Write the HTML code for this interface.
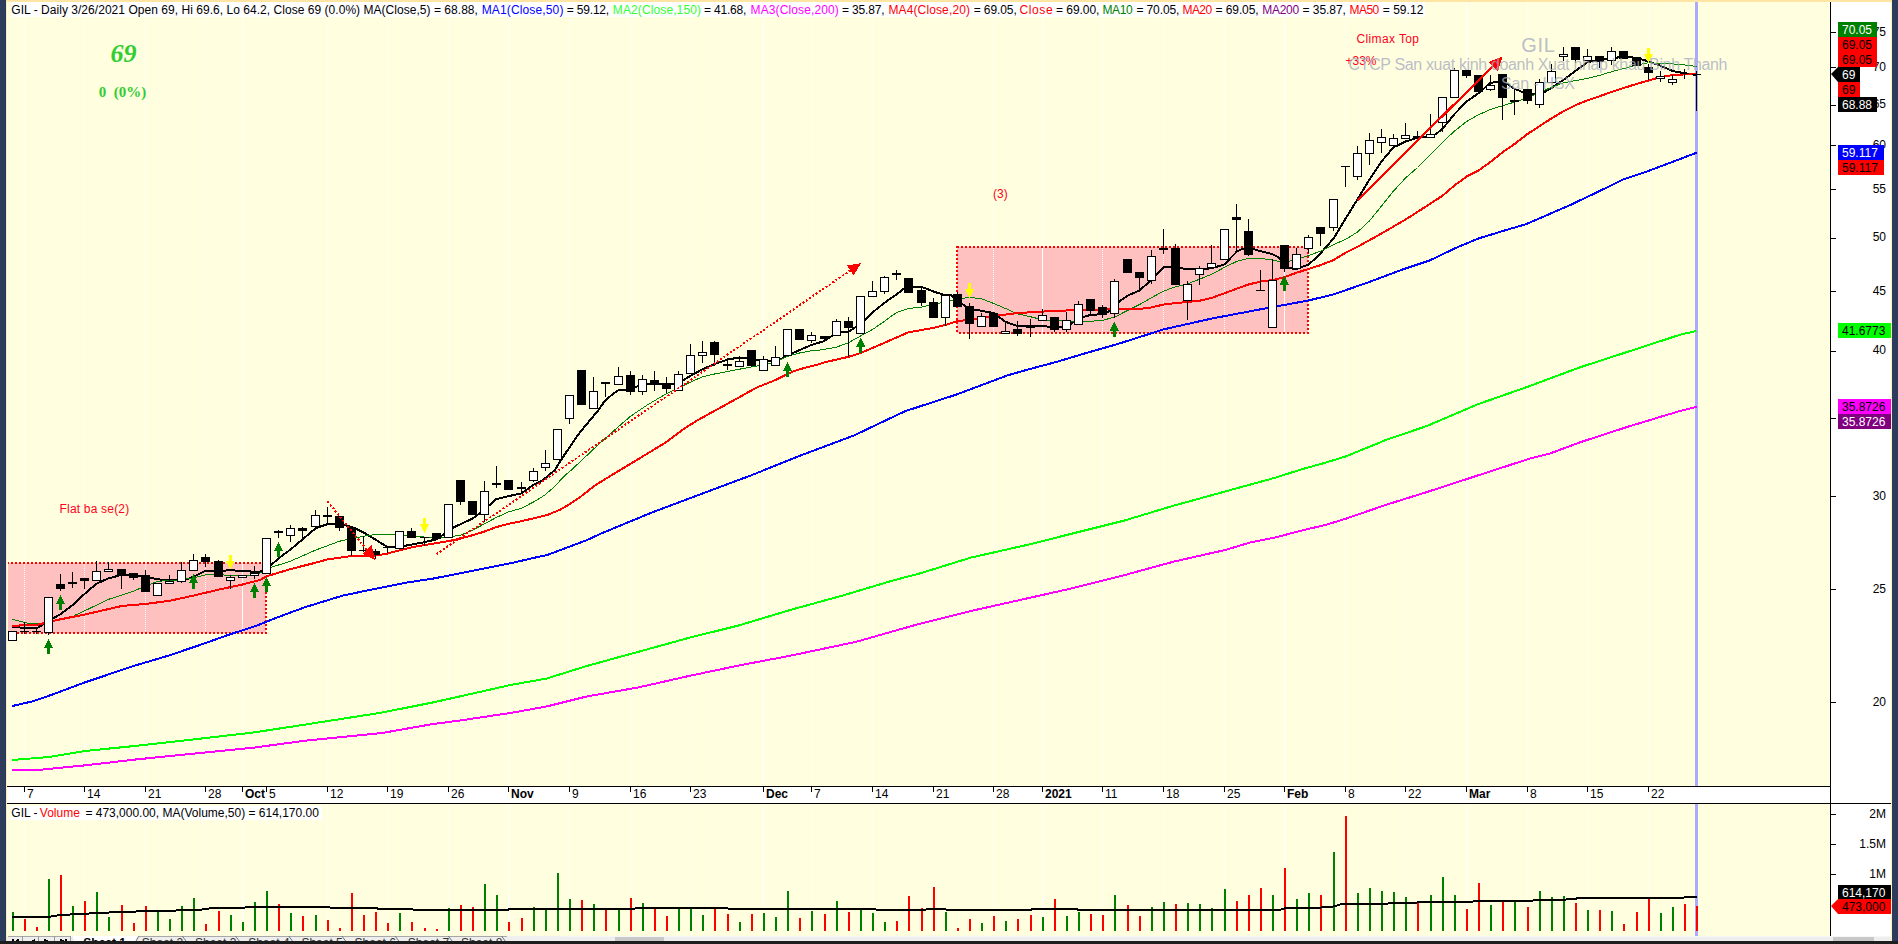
<!DOCTYPE html>
<html lang="en">
<head>
<meta charset="utf-8">
<title>GIL - Daily chart</title>
<style>
html,body{margin:0;padding:0;background:#FFFFE0;}
body{width:1898px;height:944px;overflow:hidden;position:relative;font-family:"Liberation Sans",Arial,sans-serif;}
</style>
</head>
<body>
<svg width="1898" height="944" viewBox="0 0 1898 944" style="display:block;position:absolute;left:0;top:0" font-family="'Liberation Sans', Arial, sans-serif" font-size="12">
<rect x="0" y="0" width="1898" height="944" fill="#FFFFE0"/>
<rect x="1831" y="0" width="61" height="944" fill="#fff"/>
<rect x="6" y="787" width="1825" height="16" fill="#fff"/>
<g shape-rendering="crispEdges">
<rect x="7" y="563" width="259" height="70" fill="#FFC0C0"/>
<rect x="957" y="247" width="351" height="85.5" fill="#FFC0C0"/>
<line x1="24.5" y1="2" x2="24.5" y2="787" stroke="#fff" stroke-width="1" stroke-dasharray="1 1"/>
<line x1="24.5" y1="804" x2="24.5" y2="936" stroke="#fff" stroke-width="1" stroke-dasharray="1 1"/>
<line x1="84.5" y1="2" x2="84.5" y2="787" stroke="#fff" stroke-width="1" stroke-dasharray="1 1"/>
<line x1="84.5" y1="804" x2="84.5" y2="936" stroke="#fff" stroke-width="1" stroke-dasharray="1 1"/>
<line x1="145.5" y1="2" x2="145.5" y2="787" stroke="#fff" stroke-width="1" stroke-dasharray="1 1"/>
<line x1="145.5" y1="804" x2="145.5" y2="936" stroke="#fff" stroke-width="1" stroke-dasharray="1 1"/>
<line x1="205.5" y1="2" x2="205.5" y2="787" stroke="#fff" stroke-width="1" stroke-dasharray="1 1"/>
<line x1="205.5" y1="804" x2="205.5" y2="936" stroke="#fff" stroke-width="1" stroke-dasharray="1 1"/>
<line x1="242.5" y1="2" x2="242.5" y2="787" stroke="#fff" stroke-width="1"/>
<line x1="242.5" y1="804" x2="242.5" y2="936" stroke="#fff" stroke-width="1"/>
<line x1="266.5" y1="2" x2="266.5" y2="787" stroke="#fff" stroke-width="1" stroke-dasharray="1 1"/>
<line x1="266.5" y1="804" x2="266.5" y2="936" stroke="#fff" stroke-width="1" stroke-dasharray="1 1"/>
<line x1="327.5" y1="2" x2="327.5" y2="787" stroke="#fff" stroke-width="1" stroke-dasharray="1 1"/>
<line x1="327.5" y1="804" x2="327.5" y2="936" stroke="#fff" stroke-width="1" stroke-dasharray="1 1"/>
<line x1="387.5" y1="2" x2="387.5" y2="787" stroke="#fff" stroke-width="1" stroke-dasharray="1 1"/>
<line x1="387.5" y1="804" x2="387.5" y2="936" stroke="#fff" stroke-width="1" stroke-dasharray="1 1"/>
<line x1="448.5" y1="2" x2="448.5" y2="787" stroke="#fff" stroke-width="1" stroke-dasharray="1 1"/>
<line x1="448.5" y1="804" x2="448.5" y2="936" stroke="#fff" stroke-width="1" stroke-dasharray="1 1"/>
<line x1="508.5" y1="2" x2="508.5" y2="787" stroke="#fff" stroke-width="1"/>
<line x1="508.5" y1="804" x2="508.5" y2="936" stroke="#fff" stroke-width="1"/>
<line x1="569.5" y1="2" x2="569.5" y2="787" stroke="#fff" stroke-width="1" stroke-dasharray="1 1"/>
<line x1="569.5" y1="804" x2="569.5" y2="936" stroke="#fff" stroke-width="1" stroke-dasharray="1 1"/>
<line x1="630.5" y1="2" x2="630.5" y2="787" stroke="#fff" stroke-width="1" stroke-dasharray="1 1"/>
<line x1="630.5" y1="804" x2="630.5" y2="936" stroke="#fff" stroke-width="1" stroke-dasharray="1 1"/>
<line x1="690.5" y1="2" x2="690.5" y2="787" stroke="#fff" stroke-width="1" stroke-dasharray="1 1"/>
<line x1="690.5" y1="804" x2="690.5" y2="936" stroke="#fff" stroke-width="1" stroke-dasharray="1 1"/>
<line x1="763.5" y1="2" x2="763.5" y2="787" stroke="#fff" stroke-width="1"/>
<line x1="763.5" y1="804" x2="763.5" y2="936" stroke="#fff" stroke-width="1"/>
<line x1="811.5" y1="2" x2="811.5" y2="787" stroke="#fff" stroke-width="1" stroke-dasharray="1 1"/>
<line x1="811.5" y1="804" x2="811.5" y2="936" stroke="#fff" stroke-width="1" stroke-dasharray="1 1"/>
<line x1="872.5" y1="2" x2="872.5" y2="787" stroke="#fff" stroke-width="1" stroke-dasharray="1 1"/>
<line x1="872.5" y1="804" x2="872.5" y2="936" stroke="#fff" stroke-width="1" stroke-dasharray="1 1"/>
<line x1="933.5" y1="2" x2="933.5" y2="787" stroke="#fff" stroke-width="1" stroke-dasharray="1 1"/>
<line x1="933.5" y1="804" x2="933.5" y2="936" stroke="#fff" stroke-width="1" stroke-dasharray="1 1"/>
<line x1="993.5" y1="2" x2="993.5" y2="787" stroke="#fff" stroke-width="1" stroke-dasharray="1 1"/>
<line x1="993.5" y1="804" x2="993.5" y2="936" stroke="#fff" stroke-width="1" stroke-dasharray="1 1"/>
<line x1="1042.5" y1="2" x2="1042.5" y2="787" stroke="#fff" stroke-width="1"/>
<line x1="1042.5" y1="804" x2="1042.5" y2="936" stroke="#fff" stroke-width="1"/>
<line x1="1102.5" y1="2" x2="1102.5" y2="787" stroke="#fff" stroke-width="1" stroke-dasharray="1 1"/>
<line x1="1102.5" y1="804" x2="1102.5" y2="936" stroke="#fff" stroke-width="1" stroke-dasharray="1 1"/>
<line x1="1163.5" y1="2" x2="1163.5" y2="787" stroke="#fff" stroke-width="1" stroke-dasharray="1 1"/>
<line x1="1163.5" y1="804" x2="1163.5" y2="936" stroke="#fff" stroke-width="1" stroke-dasharray="1 1"/>
<line x1="1224.5" y1="2" x2="1224.5" y2="787" stroke="#fff" stroke-width="1" stroke-dasharray="1 1"/>
<line x1="1224.5" y1="804" x2="1224.5" y2="936" stroke="#fff" stroke-width="1" stroke-dasharray="1 1"/>
<line x1="1284.5" y1="2" x2="1284.5" y2="787" stroke="#fff" stroke-width="1"/>
<line x1="1284.5" y1="804" x2="1284.5" y2="936" stroke="#fff" stroke-width="1"/>
<line x1="1345.5" y1="2" x2="1345.5" y2="787" stroke="#fff" stroke-width="1" stroke-dasharray="1 1"/>
<line x1="1345.5" y1="804" x2="1345.5" y2="936" stroke="#fff" stroke-width="1" stroke-dasharray="1 1"/>
<line x1="1405.5" y1="2" x2="1405.5" y2="787" stroke="#fff" stroke-width="1" stroke-dasharray="1 1"/>
<line x1="1405.5" y1="804" x2="1405.5" y2="936" stroke="#fff" stroke-width="1" stroke-dasharray="1 1"/>
<line x1="1466.5" y1="2" x2="1466.5" y2="787" stroke="#fff" stroke-width="1"/>
<line x1="1466.5" y1="804" x2="1466.5" y2="936" stroke="#fff" stroke-width="1"/>
<line x1="1527.5" y1="2" x2="1527.5" y2="787" stroke="#fff" stroke-width="1" stroke-dasharray="1 1"/>
<line x1="1527.5" y1="804" x2="1527.5" y2="936" stroke="#fff" stroke-width="1" stroke-dasharray="1 1"/>
<line x1="1587.5" y1="2" x2="1587.5" y2="787" stroke="#fff" stroke-width="1" stroke-dasharray="1 1"/>
<line x1="1587.5" y1="804" x2="1587.5" y2="936" stroke="#fff" stroke-width="1" stroke-dasharray="1 1"/>
<line x1="1648.5" y1="2" x2="1648.5" y2="787" stroke="#fff" stroke-width="1" stroke-dasharray="1 1"/>
<line x1="1648.5" y1="804" x2="1648.5" y2="936" stroke="#fff" stroke-width="1" stroke-dasharray="1 1"/>
<path d="M7 563H266V633H7" fill="none" stroke="#f00" stroke-width="2" stroke-dasharray="2 2"/>
<rect x="957" y="247" width="351" height="85.5" fill="none" stroke="#f00" stroke-width="2" stroke-dasharray="2 2"/>
<rect x="1695" y="2" width="3" height="785" fill="#AAAAFF"/>
<rect x="1695" y="804" width="3" height="132" fill="#AAAAFF"/>
<polyline points="12,626.5 24.5,628 36.6,628.5 43,624.5 48.5,621 60.4,614.3 72.4,605.2 84.5,594 96.4,583.7 108.7,578.3 121.6,574.9 133.5,574.9 145.3,576.6 157.5,579.3 169.5,580.3 181.7,579.6 187,579.3 193.5,576.7 205.4,570.8 218.4,570.7 230.3,570.4 242.5,570.7 254.5,571.9 260,571.6 266.7,568 272,564.2 278.5,558.5 290.4,549.6 302.6,539.3 315.6,528.3 327.5,524.1 339.6,524.1 351.5,526.8 363.4,532.3 375.7,539.7 387.5,547.1 399.4,546.8 411.6,544.6 424.3,542.2 436.2,539.4 448.3,531.5 453,527.7 460.5,524.2 472.4,518.6 478,514.5 484.7,509 489.2,505.4 496.2,499.1 508.4,496.2 521.3,493.4 533.6,484.8 540,481.9 545.5,478 554.9,470 560,461.5 569.4,447.5 579.1,433.4 588.6,421.9 598.1,410.5 604.8,401 612.4,394.3 619.1,389.9 630.5,389.9 636,387.1 642.3,384.1 654.5,384.1 666.5,384.1 678.7,383.4 690.5,375.7 702.4,369.3 714.6,364.1 727.3,359.7 739.5,357.4 751.3,358.9 763.5,360.6 772,361 780,359.6 787.7,355.3 799.6,350.1 811.4,344.9 824,341.2 830.4,336.8 840.8,332 848.5,332 854.2,327.9 860.5,325 865.3,319.7 872.7,312.3 884.6,302.7 896.4,294.5 903,289.3 908.4,286.8 921.3,286.8 933.5,291.5 945.4,295.3 951,295.3 957.5,301.2 969.5,308.6 981.4,310.8 993.6,313 1005.7,321.9 1017.7,326.1 1030.6,326.1 1042.5,326.1 1054.4,327.1 1066.4,327.1 1078.6,318.6 1090.4,314.9 1102.3,314.2 1108,312 1114.4,306.8 1120,300.8 1127.5,295.7 1139.4,290.5 1151.2,280.1 1163.4,267.2 1175.4,267.2 1187.6,269.4 1199.4,269.4 1211.6,268.2 1224.3,264.5 1236.5,251.9 1242,248.9 1248.4,247.5 1260.5,251.2 1272.4,254.1 1278,257.1 1284.4,263.8 1290,268.2 1296.6,269 1308.4,264.5 1313.7,260 1320.4,253.5 1333.5,238.6 1345.6,218.6 1357.5,199.3 1369.6,179.3 1381.5,161.5 1393.4,147.4 1405.7,141.5 1417.5,137.8 1430.1,136.6 1436,134 1442.5,128.8 1454.6,114 1466.7,101.4 1478.6,93.2 1490.4,82.8 1496,82.1 1502.3,82.1 1508,84.3 1514.5,88.8 1527.5,94 1539.4,93.2 1545,91.7 1551.5,88 1563.4,79.9 1575.4,71 1587.6,62.1 1599.4,59.9 1611.6,58.4 1623.5,56.6 1636.5,57.9 1648.4,61.3 1660.5,65.8 1672.6,71 1684.7,73.2 1696.6,75" fill="none" stroke="#000" stroke-width="2" stroke-linejoin="round"/>
<polyline points="12,706.1 33.9,701 50.8,695.1 84.7,682.4 135.6,665.4 169.5,655.3 203.4,643.8 230,634.3 254.3,626.5 280,616.4 305,607.2 343,595.5 381.4,587.6 408.3,582.3 432,578.8 460,573.3 482.4,568.9 510.9,563.2 540,556.5 546.4,555.3 587.1,540 600,534 650.9,512.9 701.7,493.8 752.6,474.8 763.2,470.5 803.4,454.4 854.3,435.3 905.1,411.2 956,394.7 1006.8,375.6 1026.2,370 1057.7,361.6 1080,354.8 1114,345.1 1130.5,340 1163.4,329.4 1211.6,318.6 1260.5,309.3 1308.4,300.5 1334.2,294.2 1368,282.4 1404.8,268.7 1429.6,260.5 1456.3,247.7 1479.2,238.2 1503,231 1526.8,223.9 1570.7,204.8 1597,192.3 1624.1,179.1 1647,171.5 1669.9,162.9 1696.6,152.7" fill="none" stroke="#0000FF" stroke-width="2" stroke-linejoin="round"/>
<polyline points="12,760 49.2,757 84.7,751 135.6,745.9 203.4,738.3 254.2,732.4 305,724.6 381.4,712.7 432,702.6 460,696.4 510.9,684.9 546.4,678.6 587.1,665.9 638,651.9 688.8,637.9 739.7,625.2 790.5,609.9 841.4,595.9 892.2,580.7 920,573.4 970.9,557.6 1029.3,544.4 1072.6,533.5 1123.4,520.8 1174.3,505.5 1225.1,491.5 1276,477.5 1300,469.8 1326.8,462.3 1345.8,456.4 1386.4,439.8 1427.1,425.9 1478,404.2 1528.8,386.4 1579.7,367.4 1630.5,350.9 1681.4,334.3 1696.6,331" fill="none" stroke="#00FF00" stroke-width="2" stroke-linejoin="round"/>
<polyline points="12,770.2 35.6,770.2 84.7,765.4 135.6,759.5 203.4,752.7 254.2,747.6 305,740.7 381.4,733.1 432,724.2 460,720.5 510.9,712.9 546.4,706.5 587.1,696.4 638,687.5 688.8,676 739.7,665.3 790.5,655.7 856.6,641.7 892.2,631.5 920,623.7 970.9,611 1021.7,599.6 1072.6,588.2 1123.4,575.4 1174.3,561.5 1225.1,550 1250.5,542.4 1276,537.3 1300,530.9 1326.8,524.6 1345.8,518.7 1386.4,504.7 1427.1,492 1478,475.4 1528.8,458.9 1549.2,453.8 1579.7,442.4 1630.5,425.9 1656,418.2 1681.4,410.6 1696.6,406.8" fill="none" stroke="#FF00FF" stroke-width="2" stroke-linejoin="round"/>
<polyline points="12,619.3 29.1,623.4 43.1,623.4 48.5,622 60.4,619.3 72,617 75.8,614.9 84.5,610.9 108.7,599.3 133.5,591.2 145.3,586 157.5,581.5 169.5,580.3 181.7,579.8 193.5,577.8 205.4,574.9 218.4,574.4 230.3,575.6 254.5,575.6 266.5,569.7 272,567.1 290.4,561.2 315.6,550.1 339.6,541.2 351.5,538.5 363.4,536.3 375.7,534.5 399.4,534.8 411.6,536.3 424.3,537 436.2,538.2 448.3,537 460.5,535.3 472.4,530.2 484.7,523.8 496.2,517.5 508.4,512 521.3,508.2 533.6,502 544.5,495.3 553.4,487.6 566.1,474.3 571.4,470 581.5,460.5 593.7,449 605.3,438.3 618.6,426.5 630.5,416.3 637.7,411.3 647.2,405.1 654.5,400.7 661.5,396.5 673,390.5 685.3,384.6 702.4,376.8 714.6,374 727.3,371.6 739.5,369.2 751.3,366.9 763.5,365 775.5,362.2 787.4,356.3 799.6,353 811.4,350.7 820,350 836.4,347.2 848.5,342.7 860.5,336 872.7,329.4 884.6,321.2 896.4,312.5 908.4,308.5 921.3,307.1 933.5,304.2 945.4,301.9 957.5,299 969.5,297.5 981.4,298.7 993.6,303.4 1005.7,308.6 1017.7,313.9 1030.6,316.8 1042.5,319.7 1054.4,321.2 1062.2,320.9 1078.6,321.5 1090.4,321.3 1102.3,320.4 1114.4,317.2 1127.5,310.5 1139.4,304.6 1151.2,297.9 1163.4,291.2 1175.4,286.8 1187.6,283.8 1199.4,279.3 1211.6,274.2 1224.3,267.5 1236.5,261.5 1248.4,258.3 1260.5,258.3 1272.4,260.1 1284.4,262.3 1296.6,259.3 1308.4,255.6 1320.4,251.2 1333.5,244.6 1345.6,239.4 1357.5,232 1369.6,220.8 1381.5,206 1393.4,191.2 1405.7,177.8 1417.5,167.5 1430.1,155 1442.5,142.2 1454.6,131 1466.7,121.4 1478.6,114.7 1490.4,109.5 1502.3,105.8 1514.5,102.1 1527.5,97.7 1539.4,92.5 1551.5,87.3 1563.4,82.8 1575.4,80.6 1587.6,78.4 1599.4,75.4 1611.6,71.7 1623.5,68.7 1636.5,65 1648.4,62.8 1660.5,63.3 1672.6,63.9 1684.7,65 1696.6,66.5" fill="none" stroke="#008000" stroke-width="1" stroke-linejoin="round"/>
<polyline points="12,625.7 36.6,625 48.5,622 60.4,619.3 84.5,614.6 121.6,606 145.3,604 169.5,600.8 193.5,595.6 218.4,589.7 242.5,584.5 260,580 266.7,576.3 290.4,569.1 315.6,562.7 327.5,559.4 351.5,556 375.7,555.6 387.5,553.5 411.6,547.3 436.2,543.2 448.3,541.2 460.5,538.5 472.4,535.3 484.7,531.5 496.2,527.1 508.4,523.8 521.3,521.2 533.6,518.3 547.1,515 559.8,509.9 570,504 580,497.2 596,484.7 612.6,474.6 629.5,464.4 646.4,454.2 666.5,442 683.1,429.4 697,420.5 714.3,411 737.2,398.4 756.3,387.7 775.3,380.1 784.9,375.3 794.4,371 803.9,368.1 820,363.9 824,362.5 848.5,356.8 860.5,353.1 884.6,342.7 908.4,332.3 933.5,327.9 945.4,324.9 957.5,321.2 969.5,319.7 981.4,317.9 993.6,316 1005.7,314.5 1017.7,313 1030.6,312.3 1042.5,311.6 1054.4,310.8 1066.4,310.5 1090.4,309.7 1114.4,309.4 1139.4,309 1151.2,307.5 1163.4,304.6 1175.4,303.1 1187.6,302 1199.4,300.8 1211.6,297.9 1224.3,293.4 1236.5,288.7 1248.4,284.5 1260.5,281.6 1272.4,280.1 1284.4,277.1 1296.6,272.7 1308.4,269 1320,265.3 1333.7,260 1345.6,252.7 1357.5,246.8 1381.5,233.5 1405.7,219.4 1417.5,211.9 1430.1,203.8 1442.7,195.6 1454.7,185.3 1466.8,176.4 1478.8,170.4 1491,161.5 1503,151.9 1515,143.7 1527.5,134 1539.4,126.2 1551.5,118.4 1563.4,111.3 1575.4,105.2 1587.6,100.3 1599.4,96.3 1611.6,92 1623.5,88 1636.5,84 1648.4,80.5 1660.5,77.1 1672.6,75.1 1684.7,74.4 1696.6,74.3" fill="none" stroke="#FF0000" stroke-width="2" stroke-linejoin="round"/>
<rect x="12" y="631" width="1" height="10" fill="#000"/>
<rect x="8.5" y="631.5" width="8" height="9" fill="#fff" stroke="#000" stroke-width="1"/>
<rect x="24" y="622" width="1" height="12" fill="#000"/>
<rect x="20" y="631" width="9" height="1" fill="#000"/>
<rect x="36" y="627" width="1" height="7" fill="#000"/>
<rect x="32" y="631" width="9" height="1" fill="#000"/>
<rect x="48" y="597" width="1" height="38" fill="#000"/>
<rect x="44.5" y="597.5" width="8" height="35" fill="#fff" stroke="#000" stroke-width="1"/>
<rect x="60" y="574" width="1" height="17" fill="#000"/>
<rect x="56" y="584" width="9" height="5" fill="#000"/>
<rect x="72" y="572" width="1" height="16" fill="#000"/>
<rect x="68" y="582" width="9" height="2" fill="#000"/>
<rect x="84" y="578" width="1" height="11" fill="#000"/>
<rect x="80" y="578" width="9" height="3" fill="#000"/>
<rect x="96" y="561" width="1" height="20" fill="#000"/>
<rect x="92.5" y="571.5" width="8" height="9" fill="#fff" stroke="#000" stroke-width="1"/>
<rect x="108" y="562" width="1" height="10" fill="#000"/>
<rect x="104.5" y="569.5" width="8" height="2" fill="#fff" stroke="#000" stroke-width="1"/>
<rect x="121" y="569" width="1" height="20" fill="#000"/>
<rect x="117" y="569" width="9" height="7" fill="#000"/>
<rect x="133" y="573" width="1" height="7" fill="#000"/>
<rect x="129" y="573" width="9" height="5" fill="#000"/>
<rect x="145" y="570" width="1" height="22" fill="#000"/>
<rect x="141" y="575" width="9" height="17" fill="#000"/>
<rect x="157" y="583" width="1" height="13" fill="#000"/>
<rect x="153.5" y="583.5" width="8" height="12" fill="#fff" stroke="#000" stroke-width="1"/>
<rect x="169" y="575" width="1" height="9" fill="#000"/>
<rect x="165.5" y="581.5" width="8" height="2" fill="#fff" stroke="#000" stroke-width="1"/>
<rect x="181" y="562" width="1" height="21" fill="#000"/>
<rect x="177.5" y="570.5" width="8" height="11" fill="#fff" stroke="#000" stroke-width="1"/>
<rect x="193" y="554" width="1" height="17" fill="#000"/>
<rect x="189.5" y="560.5" width="8" height="10" fill="#fff" stroke="#000" stroke-width="1"/>
<rect x="205" y="554" width="1" height="13" fill="#000"/>
<rect x="201" y="557" width="9" height="5" fill="#000"/>
<rect x="218" y="560" width="1" height="17" fill="#000"/>
<rect x="214" y="561" width="9" height="16" fill="#000"/>
<rect x="230" y="575" width="1" height="14" fill="#000"/>
<rect x="226.5" y="577.5" width="8" height="3" fill="#fff" stroke="#000" stroke-width="1"/>
<rect x="242" y="575" width="1" height="3" fill="#000"/>
<rect x="238.5" y="575.5" width="8" height="2" fill="#fff" stroke="#000" stroke-width="1"/>
<rect x="254" y="566" width="1" height="13" fill="#000"/>
<rect x="250.5" y="573.5" width="8" height="2" fill="#fff" stroke="#000" stroke-width="1"/>
<rect x="266" y="538" width="1" height="36" fill="#000"/>
<rect x="262.5" y="538.5" width="8" height="35" fill="#fff" stroke="#000" stroke-width="1"/>
<rect x="278" y="530" width="1" height="8" fill="#000"/>
<rect x="274" y="531" width="9" height="2" fill="#000"/>
<rect x="290" y="525" width="1" height="17" fill="#000"/>
<rect x="286.5" y="528.5" width="8" height="7" fill="#fff" stroke="#000" stroke-width="1"/>
<rect x="302" y="527" width="1" height="11" fill="#000"/>
<rect x="298" y="528" width="9" height="3" fill="#000"/>
<rect x="315" y="510" width="1" height="17" fill="#000"/>
<rect x="311.5" y="515.5" width="8" height="11" fill="#fff" stroke="#000" stroke-width="1"/>
<rect x="327" y="507" width="1" height="18" fill="#000"/>
<rect x="323" y="515" width="9" height="2" fill="#000"/>
<rect x="339" y="516" width="1" height="15" fill="#000"/>
<rect x="335" y="516" width="9" height="12" fill="#000"/>
<rect x="351" y="527" width="1" height="29" fill="#000"/>
<rect x="347" y="527" width="9" height="24" fill="#000"/>
<rect x="363" y="536" width="1" height="16" fill="#000"/>
<rect x="359" y="550" width="9" height="1" fill="#000"/>
<rect x="375" y="549" width="1" height="10" fill="#000"/>
<rect x="371" y="551" width="9" height="4" fill="#000"/>
<rect x="387" y="546" width="1" height="7" fill="#000"/>
<rect x="383" y="547" width="9" height="1" fill="#000"/>
<rect x="399" y="531" width="1" height="18" fill="#000"/>
<rect x="395.5" y="531.5" width="8" height="17" fill="#fff" stroke="#000" stroke-width="1"/>
<rect x="411" y="528" width="1" height="10" fill="#000"/>
<rect x="407" y="531" width="9" height="7" fill="#000"/>
<rect x="424" y="537" width="1" height="9" fill="#000"/>
<rect x="420" y="537" width="9" height="1" fill="#000"/>
<rect x="436" y="533" width="1" height="6" fill="#000"/>
<rect x="432" y="533" width="9" height="6" fill="#000"/>
<rect x="448" y="504" width="1" height="34" fill="#000"/>
<rect x="444.5" y="504.5" width="8" height="33" fill="#fff" stroke="#000" stroke-width="1"/>
<rect x="460" y="480" width="1" height="25" fill="#000"/>
<rect x="456" y="480" width="9" height="22" fill="#000"/>
<rect x="472" y="501" width="1" height="14" fill="#000"/>
<rect x="468" y="501" width="9" height="14" fill="#000"/>
<rect x="484" y="481" width="1" height="41" fill="#000"/>
<rect x="480.5" y="491.5" width="8" height="23" fill="#fff" stroke="#000" stroke-width="1"/>
<rect x="496" y="466" width="1" height="22" fill="#000"/>
<rect x="492" y="483" width="9" height="2" fill="#000"/>
<rect x="508" y="480" width="1" height="10" fill="#000"/>
<rect x="504" y="480" width="9" height="10" fill="#000"/>
<rect x="521" y="482" width="1" height="11" fill="#000"/>
<rect x="517" y="487" width="9" height="2" fill="#000"/>
<rect x="533" y="468" width="1" height="14" fill="#000"/>
<rect x="529.5" y="471.5" width="8" height="9" fill="#fff" stroke="#000" stroke-width="1"/>
<rect x="545" y="450" width="1" height="21" fill="#000"/>
<rect x="541.5" y="463.5" width="8" height="4" fill="#fff" stroke="#000" stroke-width="1"/>
<rect x="557" y="429" width="1" height="31" fill="#000"/>
<rect x="553.5" y="429.5" width="8" height="30" fill="#fff" stroke="#000" stroke-width="1"/>
<rect x="569" y="395" width="1" height="29" fill="#000"/>
<rect x="565.5" y="395.5" width="8" height="23" fill="#fff" stroke="#000" stroke-width="1"/>
<rect x="581" y="370" width="1" height="35" fill="#000"/>
<rect x="577" y="370" width="9" height="35" fill="#000"/>
<rect x="593" y="377" width="1" height="32" fill="#000"/>
<rect x="589.5" y="391.5" width="8" height="17" fill="#fff" stroke="#000" stroke-width="1"/>
<rect x="605" y="383" width="1" height="14" fill="#000"/>
<rect x="601" y="382" width="9" height="2" fill="#000"/>
<rect x="618" y="367" width="1" height="18" fill="#000"/>
<rect x="614.5" y="376.5" width="8" height="8" fill="#fff" stroke="#000" stroke-width="1"/>
<rect x="630" y="371" width="1" height="24" fill="#000"/>
<rect x="626" y="375" width="9" height="17" fill="#000"/>
<rect x="642" y="375" width="1" height="20" fill="#000"/>
<rect x="638.5" y="379.5" width="8" height="12" fill="#fff" stroke="#000" stroke-width="1"/>
<rect x="654" y="371" width="1" height="20" fill="#000"/>
<rect x="650" y="380" width="9" height="5" fill="#000"/>
<rect x="666" y="377" width="1" height="16" fill="#000"/>
<rect x="662" y="383" width="9" height="6" fill="#000"/>
<rect x="678" y="371" width="1" height="20" fill="#000"/>
<rect x="674.5" y="374.5" width="8" height="16" fill="#fff" stroke="#000" stroke-width="1"/>
<rect x="690" y="344" width="1" height="30" fill="#000"/>
<rect x="686.5" y="355.5" width="8" height="18" fill="#fff" stroke="#000" stroke-width="1"/>
<rect x="702" y="341" width="1" height="22" fill="#000"/>
<rect x="698.5" y="352.5" width="8" height="3" fill="#fff" stroke="#000" stroke-width="1"/>
<rect x="714" y="341" width="1" height="25" fill="#000"/>
<rect x="710" y="342" width="9" height="13" fill="#000"/>
<rect x="727" y="358" width="1" height="12" fill="#000"/>
<rect x="723" y="364" width="9" height="2" fill="#000"/>
<rect x="739" y="356" width="1" height="11" fill="#000"/>
<rect x="735.5" y="361.5" width="8" height="5" fill="#fff" stroke="#000" stroke-width="1"/>
<rect x="751" y="350" width="1" height="17" fill="#000"/>
<rect x="747" y="350" width="9" height="16" fill="#000"/>
<rect x="763" y="356" width="1" height="15" fill="#000"/>
<rect x="759.5" y="359.5" width="8" height="11" fill="#fff" stroke="#000" stroke-width="1"/>
<rect x="775" y="346" width="1" height="20" fill="#000"/>
<rect x="771.5" y="357.5" width="8" height="8" fill="#fff" stroke="#000" stroke-width="1"/>
<rect x="787" y="329" width="1" height="27" fill="#000"/>
<rect x="783.5" y="329.5" width="8" height="26" fill="#fff" stroke="#000" stroke-width="1"/>
<rect x="799" y="329" width="1" height="11" fill="#000"/>
<rect x="795" y="329" width="9" height="11" fill="#000"/>
<rect x="811" y="332" width="1" height="11" fill="#000"/>
<rect x="807.5" y="335.5" width="8" height="5" fill="#fff" stroke="#000" stroke-width="1"/>
<rect x="824" y="336" width="1" height="6" fill="#000"/>
<rect x="820" y="336" width="9" height="3" fill="#000"/>
<rect x="836" y="319" width="1" height="17" fill="#000"/>
<rect x="832.5" y="321.5" width="8" height="14" fill="#fff" stroke="#000" stroke-width="1"/>
<rect x="848" y="317" width="1" height="40" fill="#000"/>
<rect x="844" y="321" width="9" height="7" fill="#000"/>
<rect x="860" y="296" width="1" height="38" fill="#000"/>
<rect x="856.5" y="296.5" width="8" height="37" fill="#fff" stroke="#000" stroke-width="1"/>
<rect x="872" y="281" width="1" height="16" fill="#000"/>
<rect x="868.5" y="291.5" width="8" height="5" fill="#fff" stroke="#000" stroke-width="1"/>
<rect x="884" y="276" width="1" height="18" fill="#000"/>
<rect x="880.5" y="277.5" width="8" height="14" fill="#fff" stroke="#000" stroke-width="1"/>
<rect x="896" y="270" width="1" height="10" fill="#000"/>
<rect x="892" y="273" width="9" height="2" fill="#000"/>
<rect x="908" y="278" width="1" height="15" fill="#000"/>
<rect x="904" y="278" width="9" height="15" fill="#000"/>
<rect x="921" y="287" width="1" height="19" fill="#000"/>
<rect x="917" y="290" width="9" height="13" fill="#000"/>
<rect x="933" y="298" width="1" height="20" fill="#000"/>
<rect x="929" y="302" width="9" height="16" fill="#000"/>
<rect x="945" y="294" width="1" height="32" fill="#000"/>
<rect x="941.5" y="295.5" width="8" height="22" fill="#fff" stroke="#000" stroke-width="1"/>
<rect x="957" y="292" width="1" height="15" fill="#000"/>
<rect x="953" y="294" width="9" height="13" fill="#000"/>
<rect x="969" y="303" width="1" height="36" fill="#000"/>
<rect x="965" y="306" width="9" height="18" fill="#000"/>
<rect x="981" y="313" width="1" height="14" fill="#000"/>
<rect x="977.5" y="316.5" width="8" height="10" fill="#fff" stroke="#000" stroke-width="1"/>
<rect x="993" y="313" width="1" height="14" fill="#000"/>
<rect x="989" y="313" width="9" height="14" fill="#000"/>
<rect x="1005" y="321" width="1" height="13" fill="#000"/>
<rect x="1001.5" y="331.5" width="8" height="2" fill="#fff" stroke="#000" stroke-width="1"/>
<rect x="1017" y="321" width="1" height="15" fill="#000"/>
<rect x="1013" y="329" width="9" height="5" fill="#000"/>
<rect x="1030" y="319" width="1" height="18" fill="#000"/>
<rect x="1026" y="326" width="9" height="2" fill="#000"/>
<rect x="1042" y="309" width="1" height="12" fill="#000"/>
<rect x="1038.5" y="315.5" width="8" height="5" fill="#fff" stroke="#000" stroke-width="1"/>
<rect x="1054" y="317" width="1" height="15" fill="#000"/>
<rect x="1050" y="317" width="9" height="13" fill="#000"/>
<rect x="1066" y="312" width="1" height="20" fill="#000"/>
<rect x="1062.5" y="320.5" width="8" height="9" fill="#fff" stroke="#000" stroke-width="1"/>
<rect x="1078" y="301" width="1" height="24" fill="#000"/>
<rect x="1074.5" y="304.5" width="8" height="20" fill="#fff" stroke="#000" stroke-width="1"/>
<rect x="1090" y="299" width="1" height="16" fill="#000"/>
<rect x="1086" y="299" width="9" height="12" fill="#000"/>
<rect x="1102" y="305" width="1" height="13" fill="#000"/>
<rect x="1098" y="307" width="9" height="8" fill="#000"/>
<rect x="1114" y="279" width="1" height="39" fill="#000"/>
<rect x="1110.5" y="281.5" width="8" height="32" fill="#fff" stroke="#000" stroke-width="1"/>
<rect x="1127" y="259" width="1" height="14" fill="#000"/>
<rect x="1123" y="259" width="9" height="14" fill="#000"/>
<rect x="1139" y="272" width="1" height="19" fill="#000"/>
<rect x="1135" y="272" width="9" height="6" fill="#000"/>
<rect x="1151" y="250" width="1" height="34" fill="#000"/>
<rect x="1147.5" y="256.5" width="8" height="24" fill="#fff" stroke="#000" stroke-width="1"/>
<rect x="1163" y="229" width="1" height="25" fill="#000"/>
<rect x="1159" y="248" width="9" height="2" fill="#000"/>
<rect x="1175" y="244" width="1" height="41" fill="#000"/>
<rect x="1171" y="248" width="9" height="37" fill="#000"/>
<rect x="1187" y="281" width="1" height="39" fill="#000"/>
<rect x="1183.5" y="284.5" width="8" height="16" fill="#fff" stroke="#000" stroke-width="1"/>
<rect x="1199" y="266" width="1" height="19" fill="#000"/>
<rect x="1195.5" y="268.5" width="8" height="6" fill="#fff" stroke="#000" stroke-width="1"/>
<rect x="1211" y="245" width="1" height="23" fill="#000"/>
<rect x="1207.5" y="263.5" width="8" height="4" fill="#fff" stroke="#000" stroke-width="1"/>
<rect x="1224" y="229" width="1" height="31" fill="#000"/>
<rect x="1220.5" y="229.5" width="8" height="30" fill="#fff" stroke="#000" stroke-width="1"/>
<rect x="1236" y="204" width="1" height="48" fill="#000"/>
<rect x="1232" y="217" width="9" height="3" fill="#000"/>
<rect x="1248" y="219" width="1" height="37" fill="#000"/>
<rect x="1244" y="231" width="9" height="24" fill="#000"/>
<rect x="1260" y="270" width="1" height="21" fill="#000"/>
<rect x="1256" y="290" width="9" height="1" fill="#000"/>
<rect x="1272" y="259" width="1" height="69" fill="#000"/>
<rect x="1268.5" y="280.5" width="8" height="47" fill="#fff" stroke="#000" stroke-width="1"/>
<rect x="1284" y="245" width="1" height="27" fill="#000"/>
<rect x="1280" y="245" width="9" height="24" fill="#000"/>
<rect x="1296" y="248" width="1" height="21" fill="#000"/>
<rect x="1292.5" y="254.5" width="8" height="14" fill="#fff" stroke="#000" stroke-width="1"/>
<rect x="1308" y="235" width="1" height="18" fill="#000"/>
<rect x="1304.5" y="237.5" width="8" height="11" fill="#fff" stroke="#000" stroke-width="1"/>
<rect x="1320" y="227" width="1" height="19" fill="#000"/>
<rect x="1316" y="227" width="9" height="7" fill="#000"/>
<rect x="1333" y="199" width="1" height="32" fill="#000"/>
<rect x="1329.5" y="199.5" width="8" height="28" fill="#fff" stroke="#000" stroke-width="1"/>
<rect x="1345" y="166" width="1" height="21" fill="#000"/>
<rect x="1341" y="166" width="9" height="1" fill="#000"/>
<rect x="1357" y="146" width="1" height="34" fill="#000"/>
<rect x="1353.5" y="153.5" width="8" height="23" fill="#fff" stroke="#000" stroke-width="1"/>
<rect x="1369" y="133" width="1" height="32" fill="#000"/>
<rect x="1365.5" y="140.5" width="8" height="13" fill="#fff" stroke="#000" stroke-width="1"/>
<rect x="1381" y="129" width="1" height="24" fill="#000"/>
<rect x="1377.5" y="137.5" width="8" height="5" fill="#fff" stroke="#000" stroke-width="1"/>
<rect x="1393" y="134" width="1" height="12" fill="#000"/>
<rect x="1389.5" y="138.5" width="8" height="7" fill="#fff" stroke="#000" stroke-width="1"/>
<rect x="1405" y="123" width="1" height="16" fill="#000"/>
<rect x="1401.5" y="135.5" width="8" height="3" fill="#fff" stroke="#000" stroke-width="1"/>
<rect x="1417" y="131" width="1" height="7" fill="#000"/>
<rect x="1413" y="136" width="9" height="2" fill="#000"/>
<rect x="1430" y="114" width="1" height="24" fill="#000"/>
<rect x="1426.5" y="134.5" width="8" height="3" fill="#fff" stroke="#000" stroke-width="1"/>
<rect x="1442" y="97" width="1" height="35" fill="#000"/>
<rect x="1438.5" y="97.5" width="8" height="25" fill="#fff" stroke="#000" stroke-width="1"/>
<rect x="1454" y="68" width="1" height="30" fill="#000"/>
<rect x="1450.5" y="70.5" width="8" height="27" fill="#fff" stroke="#000" stroke-width="1"/>
<rect x="1466" y="70" width="1" height="8" fill="#000"/>
<rect x="1462" y="70" width="9" height="6" fill="#000"/>
<rect x="1478" y="75" width="1" height="17" fill="#000"/>
<rect x="1474" y="75" width="9" height="17" fill="#000"/>
<rect x="1490" y="75" width="1" height="16" fill="#000"/>
<rect x="1486.5" y="85.5" width="8" height="4" fill="#fff" stroke="#000" stroke-width="1"/>
<rect x="1502" y="74" width="1" height="46" fill="#000"/>
<rect x="1498" y="74" width="9" height="24" fill="#000"/>
<rect x="1514" y="88" width="1" height="27" fill="#000"/>
<rect x="1510" y="100" width="9" height="2" fill="#000"/>
<rect x="1527" y="89" width="1" height="15" fill="#000"/>
<rect x="1523" y="89" width="9" height="12" fill="#000"/>
<rect x="1539" y="79" width="1" height="29" fill="#000"/>
<rect x="1535.5" y="82.5" width="8" height="22" fill="#fff" stroke="#000" stroke-width="1"/>
<rect x="1551" y="64" width="1" height="19" fill="#000"/>
<rect x="1547.5" y="71.5" width="8" height="11" fill="#fff" stroke="#000" stroke-width="1"/>
<rect x="1563" y="47" width="1" height="14" fill="#000"/>
<rect x="1559.5" y="54.5" width="8" height="2" fill="#fff" stroke="#000" stroke-width="1"/>
<rect x="1575" y="47" width="1" height="16" fill="#000"/>
<rect x="1571" y="47" width="9" height="13" fill="#000"/>
<rect x="1587" y="49" width="1" height="12" fill="#000"/>
<rect x="1583.5" y="56.5" width="8" height="4" fill="#fff" stroke="#000" stroke-width="1"/>
<rect x="1599" y="56" width="1" height="12" fill="#000"/>
<rect x="1595" y="56" width="9" height="6" fill="#000"/>
<rect x="1611" y="47" width="1" height="18" fill="#000"/>
<rect x="1607.5" y="51.5" width="8" height="9" fill="#fff" stroke="#000" stroke-width="1"/>
<rect x="1623" y="51" width="1" height="8" fill="#000"/>
<rect x="1619" y="51" width="9" height="8" fill="#000"/>
<rect x="1636" y="57" width="1" height="9" fill="#000"/>
<rect x="1632" y="57" width="9" height="9" fill="#000"/>
<rect x="1648" y="64" width="1" height="16" fill="#000"/>
<rect x="1644" y="67" width="9" height="6" fill="#000"/>
<rect x="1660" y="71" width="1" height="11" fill="#000"/>
<rect x="1656.5" y="76.5" width="8" height="2" fill="#fff" stroke="#000" stroke-width="1"/>
<rect x="1672" y="75" width="1" height="10" fill="#000"/>
<rect x="1668.5" y="79.5" width="8" height="3" fill="#fff" stroke="#000" stroke-width="1"/>
<rect x="1684" y="69" width="1" height="10" fill="#000"/>
<rect x="1680" y="73" width="9" height="1" fill="#000"/>
<rect x="1696" y="71" width="1" height="40" fill="#000"/>
<rect x="1692" y="74" width="9" height="1" fill="#000"/>
<polygon points="48.5,639.4 53,648.4 50,648.4 50,654.4 47,654.4 47,648.4 44,648.4" fill="#008000"/>
<polygon points="60.4,595.2 64.9,604.2 61.9,604.2 61.9,610.2 58.9,610.2 58.9,604.2 55.9,604.2" fill="#008000"/>
<polygon points="193.5,574.1 198,583.1 195,583.1 195,589.1 192,589.1 192,583.1 189,583.1" fill="#008000"/>
<polygon points="254.5,583.3 259,592.3 256,592.3 256,598.3 253,598.3 253,592.3 250,592.3" fill="#008000"/>
<polygon points="266.5,577.3 271,586.3 268,586.3 268,592.3 265,592.3 265,586.3 262,586.3" fill="#008000"/>
<polygon points="278.5,542.2 283,551.2 280,551.2 280,557.2 277,557.2 277,551.2 274,551.2" fill="#008000"/>
<polygon points="787.5,361.9 792,370.9 789,370.9 789,376.9 786,376.9 786,370.9 783,370.9" fill="#008000"/>
<polygon points="860.5,337.5 865,346.5 862,346.5 862,352.5 859,352.5 859,346.5 856,346.5" fill="#008000"/>
<polygon points="1114.4,321.5 1118.9,330.5 1115.9,330.5 1115.9,336.5 1112.9,336.5 1112.9,330.5 1109.9,330.5" fill="#008000"/>
<polygon points="1284.4,275.6 1288.9,284.6 1285.9,284.6 1285.9,290.6 1282.9,290.6 1282.9,284.6 1279.9,284.6" fill="#008000"/>
<polygon points="228.8,554.8 231.8,554.8 231.8,560.8 234.8,560.8 230.3,569.8 225.8,560.8 228.8,560.8" fill="#FFFF00"/>
<polygon points="422.9,518 425.9,518 425.9,524 428.9,524 424.4,533 419.9,524 422.9,524" fill="#FFFF00"/>
<polygon points="968,282.9 971,282.9 971,288.9 974,288.9 969.5,297.9 965,288.9 968,288.9" fill="#FFFF00"/>
<polygon points="1646.9,48 1649.9,48 1649.9,54 1652.9,54 1648.4,63 1643.9,54 1646.9,54" fill="#FFFF00"/>
<line x1="327.5" y1="501.4" x2="370" y2="553.8" stroke="#f00" stroke-width="2" stroke-dasharray="2 2"/>
<polygon points="375,560 362.5,553.7 371.7,545" fill="#f00"/>
<line x1="436.5" y1="554.2" x2="851" y2="270" stroke="#f00" stroke-width="2" stroke-dasharray="2 2"/>
<polygon points="861,263.2 853.7,275.5 846.9,265.6" fill="#f00"/>
<line x1="1357.5" y1="200.1" x2="1494" y2="65" stroke="#f00" stroke-width="2.2"/>
<polygon points="1502.5,56.5 1498,71.5 1488.5,62" fill="#f00"/>
<rect x="12" y="912" width="2" height="19" fill="#008000"/>
<rect x="24" y="919" width="2" height="12" fill="#FF0000"/>
<rect x="36" y="927" width="2" height="4" fill="#FF0000"/>
<rect x="48" y="879" width="2" height="52" fill="#008000"/>
<rect x="60" y="875" width="2" height="56" fill="#FF0000"/>
<rect x="72" y="906" width="2" height="25" fill="#008000"/>
<rect x="84" y="901" width="2" height="30" fill="#FF0000"/>
<rect x="96" y="892" width="2" height="39" fill="#008000"/>
<rect x="108" y="917" width="2" height="14" fill="#008000"/>
<rect x="121" y="905" width="2" height="26" fill="#FF0000"/>
<rect x="133" y="923" width="2" height="8" fill="#FF0000"/>
<rect x="145" y="906" width="2" height="25" fill="#FF0000"/>
<rect x="157" y="911" width="2" height="20" fill="#008000"/>
<rect x="169" y="919" width="2" height="12" fill="#008000"/>
<rect x="181" y="906" width="2" height="25" fill="#008000"/>
<rect x="193" y="898" width="2" height="33" fill="#008000"/>
<rect x="205" y="924" width="2" height="7" fill="#FF0000"/>
<rect x="218" y="911" width="2" height="20" fill="#FF0000"/>
<rect x="230" y="915" width="2" height="16" fill="#008000"/>
<rect x="242" y="922" width="2" height="9" fill="#008000"/>
<rect x="254" y="902" width="2" height="29" fill="#008000"/>
<rect x="266" y="891" width="2" height="40" fill="#008000"/>
<rect x="278" y="904" width="2" height="27" fill="#FF0000"/>
<rect x="290" y="913" width="2" height="18" fill="#008000"/>
<rect x="302" y="916" width="2" height="15" fill="#FF0000"/>
<rect x="315" y="915" width="2" height="16" fill="#008000"/>
<rect x="327" y="920" width="2" height="11" fill="#FF0000"/>
<rect x="339" y="928" width="2" height="3" fill="#FF0000"/>
<rect x="351" y="893" width="2" height="38" fill="#FF0000"/>
<rect x="363" y="915" width="2" height="16" fill="#FF0000"/>
<rect x="375" y="912" width="2" height="19" fill="#FF0000"/>
<rect x="387" y="923" width="2" height="8" fill="#FF0000"/>
<rect x="399" y="913" width="2" height="18" fill="#008000"/>
<rect x="411" y="922" width="2" height="9" fill="#FF0000"/>
<rect x="424" y="928" width="2" height="3" fill="#FF0000"/>
<rect x="436" y="929" width="2" height="2" fill="#FF0000"/>
<rect x="448" y="908" width="2" height="23" fill="#008000"/>
<rect x="460" y="905" width="2" height="26" fill="#FF0000"/>
<rect x="472" y="907" width="2" height="24" fill="#FF0000"/>
<rect x="484" y="884" width="2" height="47" fill="#008000"/>
<rect x="496" y="895" width="2" height="36" fill="#008000"/>
<rect x="508" y="922" width="2" height="9" fill="#FF0000"/>
<rect x="521" y="918" width="2" height="13" fill="#FF0000"/>
<rect x="533" y="907" width="2" height="24" fill="#008000"/>
<rect x="545" y="910" width="2" height="21" fill="#008000"/>
<rect x="557" y="873" width="2" height="58" fill="#008000"/>
<rect x="569" y="899" width="2" height="32" fill="#008000"/>
<rect x="581" y="900" width="2" height="31" fill="#FF0000"/>
<rect x="593" y="904" width="2" height="27" fill="#008000"/>
<rect x="605" y="908" width="2" height="23" fill="#FF0000"/>
<rect x="618" y="908" width="2" height="23" fill="#008000"/>
<rect x="630" y="898" width="2" height="33" fill="#FF0000"/>
<rect x="642" y="903" width="2" height="28" fill="#008000"/>
<rect x="654" y="909" width="2" height="22" fill="#FF0000"/>
<rect x="666" y="916" width="2" height="15" fill="#FF0000"/>
<rect x="678" y="907" width="2" height="24" fill="#008000"/>
<rect x="690" y="907" width="2" height="24" fill="#008000"/>
<rect x="702" y="915" width="2" height="16" fill="#008000"/>
<rect x="714" y="907" width="2" height="24" fill="#FF0000"/>
<rect x="727" y="914" width="2" height="17" fill="#FF0000"/>
<rect x="739" y="922" width="2" height="9" fill="#008000"/>
<rect x="751" y="914" width="2" height="17" fill="#FF0000"/>
<rect x="763" y="913" width="2" height="18" fill="#008000"/>
<rect x="775" y="917" width="2" height="14" fill="#008000"/>
<rect x="787" y="891" width="2" height="40" fill="#008000"/>
<rect x="799" y="918" width="2" height="13" fill="#FF0000"/>
<rect x="811" y="911" width="2" height="20" fill="#008000"/>
<rect x="824" y="914" width="2" height="17" fill="#FF0000"/>
<rect x="836" y="901" width="2" height="30" fill="#008000"/>
<rect x="848" y="912" width="2" height="19" fill="#FF0000"/>
<rect x="860" y="908" width="2" height="23" fill="#008000"/>
<rect x="872" y="913" width="2" height="18" fill="#008000"/>
<rect x="884" y="922" width="2" height="9" fill="#008000"/>
<rect x="896" y="921" width="2" height="10" fill="#FF0000"/>
<rect x="908" y="896" width="2" height="35" fill="#FF0000"/>
<rect x="921" y="908" width="2" height="23" fill="#FF0000"/>
<rect x="933" y="887" width="2" height="44" fill="#FF0000"/>
<rect x="945" y="912" width="2" height="19" fill="#008000"/>
<rect x="957" y="928" width="2" height="3" fill="#FF0000"/>
<rect x="969" y="919" width="2" height="12" fill="#FF0000"/>
<rect x="981" y="923" width="2" height="8" fill="#008000"/>
<rect x="993" y="916" width="2" height="15" fill="#FF0000"/>
<rect x="1005" y="921" width="2" height="10" fill="#008000"/>
<rect x="1017" y="919" width="2" height="12" fill="#FF0000"/>
<rect x="1030" y="915" width="2" height="16" fill="#FF0000"/>
<rect x="1042" y="917" width="2" height="14" fill="#008000"/>
<rect x="1054" y="899" width="2" height="32" fill="#FF0000"/>
<rect x="1066" y="916" width="2" height="15" fill="#008000"/>
<rect x="1078" y="912" width="2" height="19" fill="#008000"/>
<rect x="1090" y="914" width="2" height="17" fill="#FF0000"/>
<rect x="1102" y="915" width="2" height="16" fill="#FF0000"/>
<rect x="1114" y="895" width="2" height="36" fill="#008000"/>
<rect x="1127" y="905" width="2" height="26" fill="#FF0000"/>
<rect x="1139" y="916" width="2" height="15" fill="#FF0000"/>
<rect x="1151" y="907" width="2" height="24" fill="#008000"/>
<rect x="1163" y="902" width="2" height="29" fill="#008000"/>
<rect x="1175" y="904" width="2" height="27" fill="#FF0000"/>
<rect x="1187" y="903" width="2" height="28" fill="#008000"/>
<rect x="1199" y="904" width="2" height="27" fill="#008000"/>
<rect x="1211" y="908" width="2" height="23" fill="#008000"/>
<rect x="1224" y="889" width="2" height="42" fill="#008000"/>
<rect x="1236" y="901" width="2" height="30" fill="#FF0000"/>
<rect x="1248" y="895" width="2" height="36" fill="#FF0000"/>
<rect x="1260" y="888" width="2" height="43" fill="#FF0000"/>
<rect x="1272" y="895" width="2" height="36" fill="#008000"/>
<rect x="1284" y="868" width="2" height="63" fill="#FF0000"/>
<rect x="1296" y="899" width="2" height="32" fill="#008000"/>
<rect x="1308" y="893" width="2" height="38" fill="#008000"/>
<rect x="1320" y="895" width="2" height="36" fill="#FF0000"/>
<rect x="1333" y="852" width="2" height="79" fill="#008000"/>
<rect x="1345" y="816" width="2" height="115" fill="#FF0000"/>
<rect x="1357" y="893" width="2" height="38" fill="#008000"/>
<rect x="1369" y="888" width="2" height="43" fill="#008000"/>
<rect x="1381" y="891" width="2" height="40" fill="#008000"/>
<rect x="1393" y="892" width="2" height="39" fill="#008000"/>
<rect x="1405" y="897" width="2" height="34" fill="#008000"/>
<rect x="1417" y="903" width="2" height="28" fill="#FF0000"/>
<rect x="1430" y="895" width="2" height="36" fill="#008000"/>
<rect x="1442" y="877" width="2" height="54" fill="#008000"/>
<rect x="1454" y="895" width="2" height="36" fill="#008000"/>
<rect x="1466" y="909" width="2" height="22" fill="#FF0000"/>
<rect x="1478" y="883" width="2" height="48" fill="#FF0000"/>
<rect x="1490" y="905" width="2" height="26" fill="#008000"/>
<rect x="1502" y="901" width="2" height="30" fill="#FF0000"/>
<rect x="1514" y="900" width="2" height="31" fill="#008000"/>
<rect x="1527" y="907" width="2" height="24" fill="#FF0000"/>
<rect x="1539" y="891" width="2" height="40" fill="#008000"/>
<rect x="1551" y="897" width="2" height="34" fill="#008000"/>
<rect x="1563" y="896" width="2" height="35" fill="#008000"/>
<rect x="1575" y="903" width="2" height="28" fill="#FF0000"/>
<rect x="1587" y="910" width="2" height="21" fill="#008000"/>
<rect x="1599" y="910" width="2" height="21" fill="#FF0000"/>
<rect x="1611" y="911" width="2" height="20" fill="#008000"/>
<rect x="1623" y="924" width="2" height="7" fill="#FF0000"/>
<rect x="1636" y="912" width="2" height="19" fill="#FF0000"/>
<rect x="1648" y="898" width="2" height="33" fill="#FF0000"/>
<rect x="1660" y="913" width="2" height="18" fill="#008000"/>
<rect x="1672" y="907" width="2" height="24" fill="#008000"/>
<rect x="1684" y="904" width="2" height="27" fill="#FF0000"/>
<rect x="1696" y="906" width="2" height="25" fill="#FF0000"/>
<polyline points="12,917 48,917 60,915 121,911.9 200,909.9 206,908.6 267,906.9 327,906.9 333,908.1 375,908.1 381,909.1 411,909.1 417,910.2 480,910.2 508,909.9 509,909.1 630,909.3 640,907.6 725,907.6 730,909.1 875,909.3 880,910.2 940,909.3 957,909.9 1031,909.9 1033,908.6 1076,908.6 1078,909.9 1280,909.9 1285,908.3 1320,907.6 1335,906.3 1340,904.5 1380,903.8 1420,902.4 1540,900.4 1575,899.2 1577,898.2 1680,898.2 1685,897.4 1696.6,897.2" fill="none" stroke="#000" stroke-width="2" stroke-linejoin="round"/>
<rect x="6" y="786" width="1825" height="1" fill="#000"/>
<rect x="6" y="803" width="1886" height="1" fill="#000"/>
<rect x="1830" y="2" width="1" height="934" fill="#000"/>
<rect x="24" y="787" width="1" height="5" fill="#000"/>
<rect x="84" y="787" width="1" height="5" fill="#000"/>
<rect x="145" y="787" width="1" height="5" fill="#000"/>
<rect x="205" y="787" width="1" height="5" fill="#000"/>
<rect x="242" y="787" width="1" height="5" fill="#000"/>
<rect x="266" y="787" width="1" height="5" fill="#000"/>
<rect x="327" y="787" width="1" height="5" fill="#000"/>
<rect x="387" y="787" width="1" height="5" fill="#000"/>
<rect x="448" y="787" width="1" height="5" fill="#000"/>
<rect x="508" y="787" width="1" height="5" fill="#000"/>
<rect x="569" y="787" width="1" height="5" fill="#000"/>
<rect x="630" y="787" width="1" height="5" fill="#000"/>
<rect x="690" y="787" width="1" height="5" fill="#000"/>
<rect x="763" y="787" width="1" height="5" fill="#000"/>
<rect x="811" y="787" width="1" height="5" fill="#000"/>
<rect x="872" y="787" width="1" height="5" fill="#000"/>
<rect x="933" y="787" width="1" height="5" fill="#000"/>
<rect x="993" y="787" width="1" height="5" fill="#000"/>
<rect x="1042" y="787" width="1" height="5" fill="#000"/>
<rect x="1102" y="787" width="1" height="5" fill="#000"/>
<rect x="1163" y="787" width="1" height="5" fill="#000"/>
<rect x="1224" y="787" width="1" height="5" fill="#000"/>
<rect x="1284" y="787" width="1" height="5" fill="#000"/>
<rect x="1345" y="787" width="1" height="5" fill="#000"/>
<rect x="1405" y="787" width="1" height="5" fill="#000"/>
<rect x="1466" y="787" width="1" height="5" fill="#000"/>
<rect x="1527" y="787" width="1" height="5" fill="#000"/>
<rect x="1587" y="787" width="1" height="5" fill="#000"/>
<rect x="1648" y="787" width="1" height="5" fill="#000"/>
<rect x="1831" y="32" width="5" height="1" fill="#000"/>
<rect x="1831" y="67" width="5" height="1" fill="#000"/>
<rect x="1831" y="105" width="5" height="1" fill="#000"/>
<rect x="1831" y="145" width="5" height="1" fill="#000"/>
<rect x="1831" y="189" width="5" height="1" fill="#000"/>
<rect x="1831" y="238" width="5" height="1" fill="#000"/>
<rect x="1831" y="291" width="5" height="1" fill="#000"/>
<rect x="1831" y="351" width="5" height="1" fill="#000"/>
<rect x="1831" y="418" width="5" height="1" fill="#000"/>
<rect x="1831" y="496" width="5" height="1" fill="#000"/>
<rect x="1831" y="589" width="5" height="1" fill="#000"/>
<rect x="1831" y="702" width="5" height="1" fill="#000"/>
<rect x="1831" y="814" width="5" height="1" fill="#000"/>
<rect x="1831" y="844" width="5" height="1" fill="#000"/>
<rect x="1831" y="874" width="5" height="1" fill="#000"/>
</g>
<text x="27" y="798">7</text>
<text x="87" y="798">14</text>
<text x="148" y="798">21</text>
<text x="208" y="798">28</text>
<text x="245" y="798" font-weight="bold">Oct</text>
<text x="269" y="798">5</text>
<text x="330" y="798">12</text>
<text x="390" y="798">19</text>
<text x="451" y="798">26</text>
<text x="511" y="798" font-weight="bold">Nov</text>
<text x="572" y="798">9</text>
<text x="633" y="798">16</text>
<text x="693" y="798">23</text>
<text x="766" y="798" font-weight="bold">Dec</text>
<text x="814" y="798">7</text>
<text x="875" y="798">14</text>
<text x="936" y="798">21</text>
<text x="996" y="798">28</text>
<text x="1045" y="798" font-weight="bold">2021</text>
<text x="1105" y="798">11</text>
<text x="1166" y="798">18</text>
<text x="1227" y="798">25</text>
<text x="1287" y="798" font-weight="bold">Feb</text>
<text x="1348" y="798">8</text>
<text x="1408" y="798">22</text>
<text x="1469" y="798" font-weight="bold">Mar</text>
<text x="1530" y="798">8</text>
<text x="1590" y="798">15</text>
<text x="1651" y="798">22</text>
<text x="1886" y="35.8" text-anchor="end">75</text>
<text x="1886" y="70.8" text-anchor="end">70</text>
<text x="1886" y="108.3" text-anchor="end">65</text>
<text x="1886" y="148.9" text-anchor="end">60</text>
<text x="1886" y="193" text-anchor="end">55</text>
<text x="1886" y="241.3" text-anchor="end">50</text>
<text x="1886" y="294.7" text-anchor="end">45</text>
<text x="1886" y="354.4" text-anchor="end">40</text>
<text x="1886" y="500.3" text-anchor="end">30</text>
<text x="1886" y="592.7" text-anchor="end">25</text>
<text x="1886" y="705.8" text-anchor="end">20</text>
<text x="1886" y="817.9" text-anchor="end">2M</text>
<text x="1886" y="847.9" text-anchor="end">1.5M</text>
<text x="1886" y="877.9" text-anchor="end">1M</text>
<rect x="1838" y="22" width="39" height="15" fill="#008000"/>
<text x="1842" y="34" fill="#fff">70.05</text>
<rect x="1838" y="37" width="39" height="15" fill="#FF0000"/>
<text x="1842" y="49" fill="#000">69.05</text>
<rect x="1838" y="52" width="39" height="15" fill="#FF0000"/>
<text x="1842" y="64" fill="#000">69.05</text>
<polygon points="1860,67 1838,67 1831,74 1838,82 1860,82" fill="#000"/>
<text x="1842" y="79" fill="#fff">69</text>
<rect x="1838" y="82" width="22" height="15" fill="#FF0000"/>
<text x="1842" y="94" fill="#000">69</text>
<rect x="1838" y="97" width="39" height="15" fill="#000"/>
<text x="1842" y="109" fill="#fff">68.88</text>
<rect x="1838" y="145" width="46" height="15" fill="#0000FF"/>
<text x="1842" y="157" fill="#fff">59.117</text>
<rect x="1838" y="160" width="46" height="15" fill="#FF0000"/>
<text x="1842" y="172" fill="#000">59.117</text>
<rect x="1838" y="323" width="53" height="15" fill="#00FF00"/>
<text x="1842" y="335" fill="#000">41.6773</text>
<rect x="1838" y="399" width="53" height="15" fill="#FF00FF"/>
<text x="1842" y="411" fill="#000">35.8726</text>
<rect x="1838" y="414" width="53" height="15" fill="#800080"/>
<text x="1842" y="426" fill="#fff">35.8726</text>
<rect x="1838" y="885" width="53" height="15" fill="#000"/>
<text x="1842" y="897" fill="#fff">614,170</text>
<polygon points="1891,899 1838,899 1831,906 1838,914 1891,914" fill="#FF0000"/>
<text x="1842" y="911" fill="#000">473,000</text>
<rect x="11" y="2" width="1414" height="15" fill="#fff"/>
<text y="14" id="title"><tspan x="11.3" fill="#000" textLength="466.6" lengthAdjust="spacing">GIL - Daily 3/26/2021 Open 69, Hi 69.6, Lo 64.2, Close 69 (0.0%) MA(Close,5) = 68.88,</tspan><tspan x="481.7" fill="#0000FF" textLength="81.7" lengthAdjust="spacing">MA1(Close,50)</tspan><tspan x="566.8" fill="#000" textLength="42.4" lengthAdjust="spacing">= 59.12,</tspan><tspan x="612.8" fill="#32FF32" textLength="88.2" lengthAdjust="spacing">MA2(Close,150)</tspan><tspan x="704.1" fill="#000" textLength="42.2" lengthAdjust="spacing">= 41.68,</tspan><tspan x="750.6" fill="#FF00FF" textLength="88.2" lengthAdjust="spacing">MA3(Close,200)</tspan><tspan x="841.9" fill="#000" textLength="42.7" lengthAdjust="spacing">= 35.87,</tspan><tspan x="888.4" fill="#FF0000" textLength="81.6" lengthAdjust="spacing">MA4(Close,20)</tspan><tspan x="973.7" fill="#000" textLength="43.1" lengthAdjust="spacing">= 69.05,</tspan><tspan x="1019.6" fill="#FF0000" textLength="33" lengthAdjust="spacing">Close</tspan><tspan x="1056.1" fill="#000" textLength="43.3" lengthAdjust="spacing">= 69.00,</tspan><tspan x="1102.5" fill="#008000" textLength="30.1" lengthAdjust="spacing">MA10</tspan><tspan x="1136.4" fill="#000" textLength="43" lengthAdjust="spacing">= 70.05,</tspan><tspan x="1182.5" fill="#FF0000" textLength="29.6" lengthAdjust="spacing">MA20</tspan><tspan x="1215.6" fill="#000" textLength="43" lengthAdjust="spacing">= 69.05,</tspan><tspan x="1262.3" fill="#800080" textLength="36.8" lengthAdjust="spacing">MA200</tspan><tspan x="1302.6" fill="#000" textLength="43.3" lengthAdjust="spacing">= 35.87,</tspan><tspan x="1349.6" fill="#FF0000" textLength="29.6" lengthAdjust="spacing">MA50</tspan><tspan x="1382.7" fill="#000" textLength="40.7" lengthAdjust="spacing">= 59.12</tspan></text>
<rect x="11" y="806" width="311" height="14" fill="#fff"/>
<text y="817" id="vtitle"><tspan x="11.3">GIL -</tspan><tspan x="39.8" fill="#FF0000">Volume</tspan><tspan x="85.4">= 473,000.00, MA(Volume,50) = 614,170.00</tspan></text>
<text x="123.5" y="62" text-anchor="middle" font-family="'Liberation Serif', 'Times New Roman', serif" font-size="26" font-weight="bold" font-style="italic" fill="#32CD32">69</text>
<text x="122.5" y="97" text-anchor="middle" font-family="'Liberation Serif', 'Times New Roman', serif" font-size="15" font-weight="bold" fill="#32CD32" xml:space="preserve">0  (0%)</text>
<text x="59.6" y="513" fill="#FF0020" textLength="69.6" lengthAdjust="spacing">Flat ba se(2)</text>
<text x="993" y="198" fill="#FF0020">(3)</text>
<text x="1356.5" y="43" fill="#FF0020" textLength="62.5" lengthAdjust="spacing">Climax Top</text>
<text x="1345.5" y="65" fill="#FF0020">+33%</text>
<g fill="#A8ACBE" fill-opacity="0.8" text-anchor="middle">
<text x="1538" y="51.8" font-size="20" textLength="33.5" lengthAdjust="spacing">GIL</text>
<text x="1538" y="70.1" font-size="16" textLength="379" lengthAdjust="spacing">CTCP San xuat kinh doanh Xuat nhap khau Binh Thanh</text>
<text x="1538" y="88.9" font-size="16" textLength="73.8" lengthAdjust="spacing">San - HSX</text>
</g>
<g shape-rendering="crispEdges">
<rect x="6" y="936" width="1886" height="5" fill="#EEEEEE"/>
<rect x="6" y="936" width="1886" height="1" fill="#F6F6F6"/>
<rect x="8" y="936" width="63" height="1" fill="#A8A8A8"/>
<rect x="22" y="936" width="1" height="5" fill="#999"/>
<rect x="38" y="936" width="1" height="5" fill="#999"/>
<rect x="54" y="936" width="1" height="5" fill="#999"/>
<rect x="70" y="936" width="1" height="5" fill="#999"/>
<polygon points="72.5,936 137.5,936 135.5,941 74.5,941" fill="#fff"/>
<rect x="139" y="936" width="368" height="1" fill="#A8A8A8"/>
<rect x="508" y="936" width="53" height="5" fill="#F0F0F0"/>
<rect x="615" y="937" width="49" height="4" fill="#C8C8C8"/>
<rect x="1833" y="937" width="41" height="4" fill="#C8C8C8"/>
<rect x="12" y="939" width="2" height="2" fill="#000"/><polygon points="19,938.5 19,941 15,941" fill="#000"/>
<polygon points="34.5,939 34.5,941 31.5,941" fill="#000"/>
<polygon points="44,938.5 49,941 44,941" fill="#000"/>
<polygon points="60,938.5 64.5,941 60,941" fill="#000"/><rect x="65" y="938.5" width="2" height="3" fill="#000"/>
</g>
<g font-size="12" fill="#333">
<text x="83.3" y="947" font-weight="bold" fill="#000">Sheet 1</text>
<text x="141.8" y="947">Sheet 2</text>
<line x1="182.3" y1="936" x2="186" y2="941" stroke="#777" stroke-width="1"/>
<text x="195" y="947">Sheet 3</text>
<line x1="235.5" y1="936" x2="239.2" y2="941" stroke="#777" stroke-width="1"/>
<text x="248.2" y="947">Sheet 4</text>
<line x1="288.7" y1="936" x2="292.4" y2="941" stroke="#777" stroke-width="1"/>
<text x="301.4" y="947">Sheet 5</text>
<line x1="341.9" y1="936" x2="345.6" y2="941" stroke="#777" stroke-width="1"/>
<text x="354.6" y="947">Sheet 6</text>
<line x1="395.1" y1="936" x2="398.8" y2="941" stroke="#777" stroke-width="1"/>
<text x="407.8" y="947">Sheet 7</text>
<line x1="448.3" y1="936" x2="452" y2="941" stroke="#777" stroke-width="1"/>
<text x="461" y="947">Sheet 8</text>
<line x1="501.5" y1="936" x2="505.2" y2="941" stroke="#777" stroke-width="1"/>
<line x1="139" y1="936" x2="136" y2="941" stroke="#777" stroke-width="1"/>
</g>
<g shape-rendering="crispEdges">
<rect x="0" y="0" width="1898" height="2" fill="#FFE5A3"/>
<rect x="6" y="0" width="1" height="941" fill="#FFE9A8"/>
<rect x="7" y="2" width="1" height="784" fill="#FFFFFF"/>
<rect x="7" y="804" width="1" height="132" fill="#FFFFFF"/>
<rect x="0" y="0" width="6" height="944" fill="#2E3C5C"/>
<rect x="5" y="0" width="1" height="944" fill="#26385C"/>
<rect x="1891" y="2" width="1" height="939" fill="#FFF0BE"/>
<rect x="1892" y="0" width="6" height="944" fill="#2E3C5C"/>
<rect x="0" y="941" width="1898" height="3" fill="#1E1E1E"/>
</g>
</svg>
</body>
</html>
